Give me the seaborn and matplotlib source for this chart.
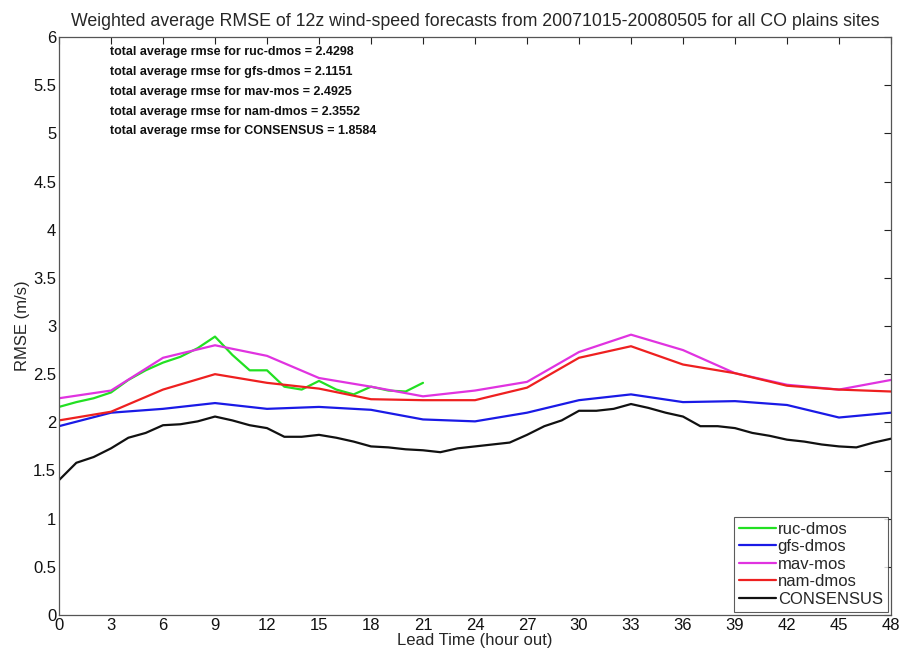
import matplotlib
matplotlib.use("Agg")
import matplotlib.pyplot as plt
import seaborn as sns
import numpy as np
import pandas as pd

# ---- data ----
hours_3 = list(range(0, 49, 3))
hours_1 = list(range(0, 49))
hours_ruc = list(range(0, 22))

ruc_dmos = [2.16, 2.21, 2.25, 2.31, 2.44, 2.54, 2.62, 2.68, 2.77, 2.89, 2.70, 2.54,
            2.54, 2.37, 2.34, 2.43, 2.34, 2.29, 2.37, 2.33, 2.32, 2.41]
gfs_dmos = [1.96, 2.10, 2.14, 2.20, 2.14, 2.16, 2.13, 2.03, 2.01, 2.10, 2.23, 2.29,
            2.21, 2.22, 2.18, 2.05, 2.10]
mav_mos = [2.25, 2.33, 2.67, 2.80, 2.69, 2.46, 2.37, 2.27, 2.33, 2.42, 2.73, 2.91,
           2.75, 2.51, 2.39, 2.34, 2.44]
nam_dmos = [2.02, 2.11, 2.34, 2.50, 2.41, 2.35, 2.24, 2.23, 2.23, 2.36, 2.67, 2.79,
            2.60, 2.51, 2.38, 2.34, 2.32]
consensus = [1.40, 1.58, 1.64, 1.73, 1.84, 1.89, 1.97, 1.98, 2.01, 2.06, 2.02, 1.97,
             1.94, 1.85, 1.85, 1.87, 1.84, 1.80, 1.75, 1.74, 1.72, 1.71, 1.69, 1.73,
             1.75, 1.77, 1.79, 1.87, 1.96, 2.02, 2.12, 2.12, 2.14, 2.19, 2.15, 2.10,
             2.06, 1.96, 1.96, 1.94, 1.89, 1.86, 1.82, 1.80, 1.77, 1.75, 1.74, 1.79, 1.83]

series_names = ["ruc-dmos", "gfs-dmos", "mav-mos", "nam-dmos", "CONSENSUS"]
totals = [2.4298, 2.1151, 2.4925, 2.3552, 1.8584]

x_ticks = list(range(0, 49, 3))
y_ticks = [0, 0.5, 1, 1.5, 2, 2.5, 3, 3.5, 4, 4.5, 5, 5.5, 6]
y_tick_labels = ["0", "0.5", "1", "1.5", "2", "2.5", "3", "3.5", "4", "4.5", "5", "5.5", "6"]

title = "Weighted average RMSE of 12z wind-speed forecasts from 20071015-20080505 for all CO plains sites"

# ---- style ----
sns.set_theme(style="white")
plt.rcParams["font.family"] = ["Liberation Sans Narrow", "Liberation Sans", "DejaVu Sans"]

colors = {"ruc-dmos": "#22e022", "gfs-dmos": "#1a1ae6", "mav-mos": "#e033e0",
          "nam-dmos": "#ee2020", "CONSENSUS": "#111111"}

fig = plt.figure(figsize=(9.01, 6.53), dpi=100)
ax = fig.add_axes([59 / 901, 1 - 615 / 653, (891 - 59) / 901, (615 - 37) / 653])

frames = [
    ("ruc-dmos", hours_ruc, ruc_dmos),
    ("gfs-dmos", hours_3, gfs_dmos),
    ("mav-mos", hours_3, mav_mos),
    ("nam-dmos", hours_3, nam_dmos),
    ("CONSENSUS", hours_1, consensus),
]
for name, xs, ys in frames:
    df = pd.DataFrame({"hour": xs, "rmse": ys})
    sns.lineplot(data=df, x="hour", y="rmse", ax=ax, color=colors[name],
                 linewidth=1.6, label=name)

ax.set_xlim(0, 48)
ax.set_ylim(0, 6)
ax.set_xticks(x_ticks)
ax.set_xticklabels([str(t) for t in x_ticks])
ax.set_yticks(y_ticks)
ax.set_yticklabels(y_tick_labels)
ax.tick_params(axis="both", direction="in", length=5, width=0.8, top=True, right=True,
               labelsize=12, colors="#222222", pad=2)
ax.tick_params(axis="both", labelcolor="#111111")
for sp in ax.spines.values():
    sp.set_color("#555555")
    sp.set_linewidth(0.9)

ax.set_xlabel("Lead Time (hour out)", fontsize=12, labelpad=0)
ax.set_ylabel("RMSE (m/s)", fontsize=12, labelpad=2)
ax.set_title(title, fontsize=12.8, pad=8)

for i, (name, tot) in enumerate(zip(series_names, totals)):
    ax.text(2.95, 5.84 - i * 0.205, f"total average rmse for {name} = {tot:.4f}",
            fontsize=9, fontweight="bold", family=["Liberation Sans", "DejaVu Sans"],
            va="center", ha="left", color="#111111")

leg = ax.legend(loc="lower right", fontsize=12, frameon=True, fancybox=False,
                handlelength=2.2, handletextpad=0.1, borderpad=0.3, labelspacing=0.15,
                borderaxespad=0.2)
leg.get_frame().set_edgecolor("#333333")
leg.get_frame().set_linewidth(0.8)

fig.savefig("out.png", dpi=100)
